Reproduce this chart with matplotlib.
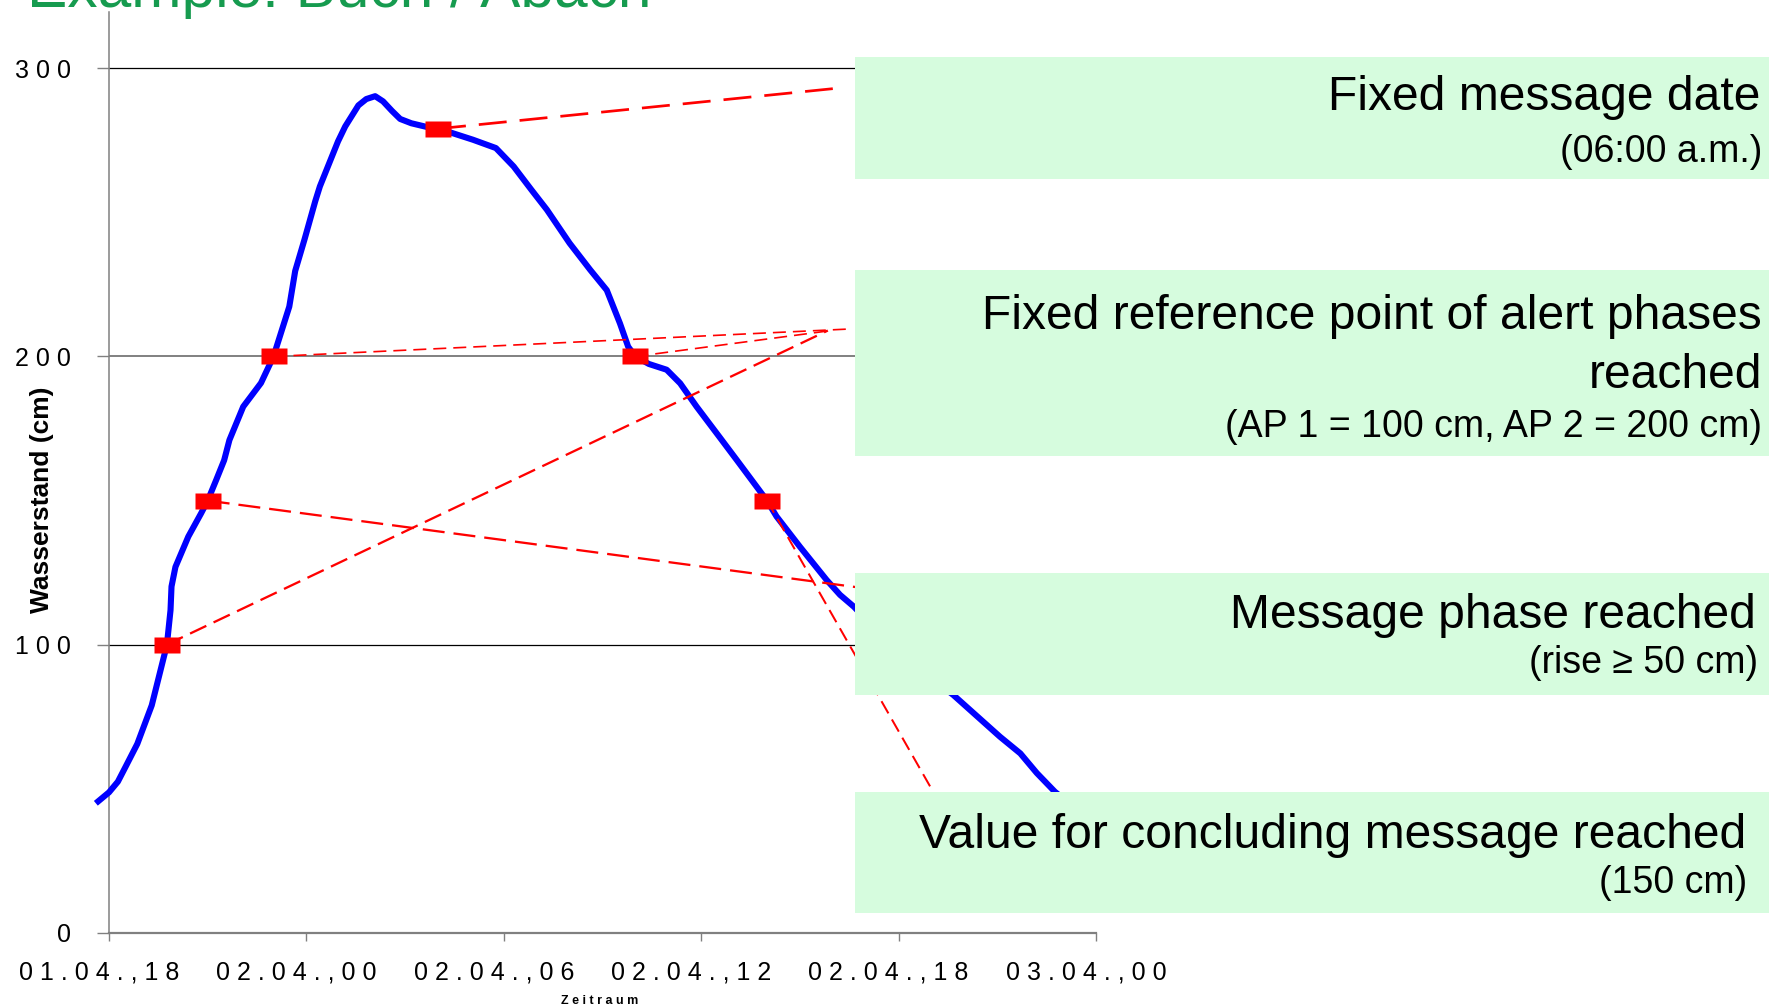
import matplotlib
matplotlib.use('Agg')
import matplotlib.pyplot as plt
from matplotlib.path import Path
from matplotlib.patches import Rectangle
import matplotlib.transforms as mtransforms

plt.rcParams['font.family'] = ['Liberation Sans', 'DejaVu Sans']

# water level curve, hours after 01.04. 18:00
hours = [-0.4, 0.0, 0.27, 0.51, 0.86, 1.3, 1.76, 1.87, 1.9, 2.02, 2.41, 2.8, 3.0,
         3.26, 3.5, 3.66, 4.08, 4.62, 5.0, 5.48, 5.66, 5.94, 6.27, 6.41, 6.96, 7.18,
         7.58, 7.82, 8.09, 8.33, 8.6, 8.85, 9.19, 9.63, 10.0, 11.06, 11.76, 12.3,
         12.84, 13.31, 14.0, 14.63, 15.13, 15.53, 15.78, 16.0, 16.41, 16.95, 17.36,
         17.86, 18.58, 19.08, 20.0, 20.29, 21.0, 21.81, 22.22, 22.64, 24.0, 25.66,
         27.08, 27.7, 28.2, 28.75, 29.5]
level = [45, 48.8, 52.5, 57.8, 65.6, 79, 100, 112, 120.2, 127, 137.5, 145.6, 150,
         157.2, 164, 171, 182.6, 190.8, 200, 217.3, 229.7, 240.5, 253.9, 259, 274.6,
         279.8, 287.1, 289.3, 290.3, 288.5, 285.2, 282.4, 280.9, 279.7, 279.1, 275.2,
         272.3, 265.9, 257.8, 250.9, 239.3, 230, 223, 211.5, 203.4, 200, 197.4,
         195.4, 190.7, 182.6, 171.7, 164.1, 150, 144.5, 134, 122.5, 117.3, 113.2, 97,
         82.6, 68.1, 62.3, 55.5, 49, 42]

marker_hours = [1.75, 3.0, 5.0, 10.0, 16.0, 20.0]
marker_levels = [100, 150, 200, 279, 200, 150]

# leader lines: marker index -> end point (hour, level)
lead_from = [3, 2, 4, 0, 1, 5]
lead_to_h = [22.0, 22.45, 21.95, 21.85, 22.7, 25.05]
lead_to_v = [292.9, 209.5, 209.0, 209.0, 120.0, 49.0]

grid_levels = [100, 200, 300]
ytick_vals = [0, 100, 200, 300]
ytick_labels = ['0', '1 0 0', '2 0 0', '3 0 0']
xtick_vals = [0, 6, 12, 18, 24, 30]
xtick_labels = ['0 1 . 0 4 . , 1 8', '0 2 . 0 4 . , 0 0', '0 2 . 0 4 . , 0 6',
                '0 2 . 0 4 . , 1 2', '0 2 . 0 4 . , 1 8', '0 3 . 0 4 . , 0 0']

title = 'Example: Buch / Abach'
box_heads = [['Fixed message date'],
             ['Fixed reference point of alert phases', 'reached'],
             ['Message phase reached'],
             ['Value for concluding message reached']]
box_notes = ['(06:00 a.m.)', '(AP 1 = 100 cm, AP 2 = 200 cm)',
             '(rise \u2265 50 cm)', '(150 cm)']

W, H = 1769, 1007
def fx(x):
    return x / W
def fy(y):
    return 1 - y / H

fig = plt.figure(figsize=(W / 100, H / 100), dpi=100)
ax = fig.add_axes([fx(109), fy(933), (1096 - 109) / W, (933 - 12) / H])
ax.set_xlim(0, 30)
ax.set_ylim(0, 319.5)

for g in grid_levels:
    if g == 200:
        ax.axhline(g, color='#808080', lw=1.4, zorder=1)
    else:
        ax.axhline(g, color='black', lw=0.9, zorder=1)

ax.plot(hours, level, color='#0000ff', lw=4.4, solid_joinstyle='round',
        solid_capstyle='butt', clip_on=False, zorder=3)

# (linewidth pt, dash px, gap px)
lead_style = [(1.95, 28, 13), (1.2, 13, 7), (1.2, 13, 7), (1.65, 18, 8),
              (1.65, 22, 9), (1.45, 14, 7)]
for i, (m, th, tv) in enumerate(zip(lead_from, lead_to_h, lead_to_v)):
    lw, on, off = lead_style[i]
    ax.plot([marker_hours[m], th], [marker_levels[m], tv], color='#ff0000', lw=lw,
            dashes=(on / 1.389 / lw, off / 1.389 / lw), clip_on=False, zorder=4)

rect = Path([(-1, -0.615), (1, -0.615), (1, 0.615), (-1, 0.615), (-1, -0.615)],
            [Path.MOVETO, Path.LINETO, Path.LINETO, Path.LINETO, Path.CLOSEPOLY])
ax.plot(marker_hours, marker_levels, ls='none', marker=rect, markersize=18.7,
        color='#ff0000', mec='none', clip_on=False, zorder=5)

for s in ['top', 'right']:
    ax.spines[s].set_visible(False)
ax.spines['left'].set_color('#808080')
ax.spines['left'].set_linewidth(1.1)
ax.spines['bottom'].set_color('#808080')
ax.spines['bottom'].set_linewidth(1.6)

ax.set_yticks(ytick_vals)
ax.set_yticklabels(ytick_labels, fontsize=18)
ax.set_xticks(xtick_vals)
ax.set_xticklabels(xtick_labels, fontsize=18)
ax.tick_params(axis='y', direction='out', length=8.6, width=1, color='#808080', pad=19)
ax.tick_params(axis='x', direction='out', length=5.8, width=1, color='#808080', pad=14)
shift = mtransforms.ScaledTranslation(-10 / 100, 0, fig.dpi_scale_trans)
for lab in ax.get_xticklabels():
    lab.set_transform(lab.get_transform() + shift)

fig.text(fx(42), fy(500), 'Wasserstand (cm)', rotation=90, ha='center', va='center',
         fontsize=19, fontweight='bold')
fig.text(fx(600), fy(1001), 'Z e i t r a u m', ha='center', va='center',
         fontsize=9, fontweight='bold')

fig.text(fx(27), fy(7), title, ha='left', va='baseline', fontsize=43.5, color='#169b4f')

# annotation boxes drawn over the chart
box_y = [(57, 179), (270, 456), (573, 695), (792, 913)]
for top, bot in box_y:
    fig.patches.append(Rectangle((fx(855), fy(bot)), fx(W) - fx(855), (bot - top) / H,
                                 transform=fig.transFigure, facecolor='#d6fcde',
                                 edgecolor='none', zorder=1))

head_pos = [[(1760, 110)], [(1762, 329), (1762, 388)], [(1756, 628)], [(1746, 848)]]
note_pos = [(1762, 162), (1762, 437), (1758, 673), (1747, 893)]
for heads, hpos, note, npos in zip(box_heads, head_pos, box_notes, note_pos):
    for line, (x, y) in zip(heads, hpos):
        fig.text(fx(x), fy(y), line, ha='right', va='baseline', fontsize=34.6, zorder=3)
    fig.text(fx(npos[0]), fy(npos[1]), note, ha='right', va='baseline', fontsize=27,
             zorder=3)

fig.savefig('out.png', dpi=100)
